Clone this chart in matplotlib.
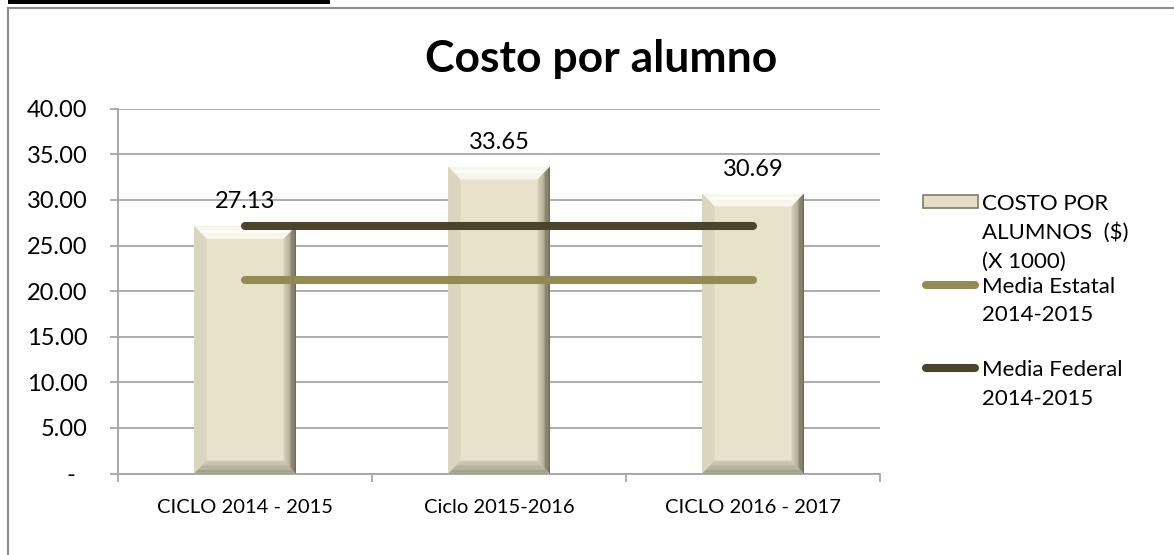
import matplotlib.pyplot as plt
import numpy as np
from matplotlib.lines import Line2D
from matplotlib.patches import Rectangle

plt.rcParams['font.family'] = ['Lato', 'DejaVu Sans']

ciclos = ['CICLO 2014 - 2015', 'Ciclo 2015-2016', 'CICLO 2016 - 2017']
costo = [27.13, 33.65, 30.69]
media_estatal = [21.2, 21.2, 21.2]
media_federal = [27.1, 27.1, 27.1]
yticks = [0, 5, 10, 15, 20, 25, 30, 35, 40]

W, H = 1174, 555
fig = plt.figure(figsize=(W / 100, H / 100), dpi=100)
ax = fig.add_axes([118 / W, 1 - 473.6 / H, 762 / W, (473.6 - 108.8) / H])

x = np.arange(len(ciclos))
bars = ax.bar(x, costo, width=0.4, color='#E8E2CA', zorder=2)


def bevel(ax, rect, bx=0.048, by=1.4, n=10):
    # beveled look: light top/left, shaded right/bottom
    x0, y0 = rect.get_x(), rect.get_y()
    x1, y1 = x0 + rect.get_width(), y0 + rect.get_height()
    ax.fill([x0, x1, x1 - bx, x0 + bx], [y1, y1, y1 - by, y1 - by],
            color='#F8F6EA', lw=0, zorder=3)
    ax.fill([x0, x0 + bx, x0 + bx, x0], [y1, y1 - by, y0 + by, y0],
            color='#DAD5BD', lw=0, zorder=3)
    c_in = np.array([0.82, 0.80, 0.70])
    c_out = np.array([0.24, 0.23, 0.17])
    b_in = np.array([0.80, 0.78, 0.69])
    b_out = np.array([0.58, 0.57, 0.50])
    for i in range(n):
        t0, t1 = i / n, (i + 1) / n
        c = c_in + (c_out - c_in) * (t0 ** 1.5)
        xa, xb = x1 - bx * (1 - t0), x1 - bx * (1 - t1)
        ax.fill([xa, xb, xb, xa],
                [y1 - by * (1 - t0), y1 - by * (1 - t1),
                 y0 + by * (1 - t1), y0 + by * (1 - t0)],
                color=c, lw=0, zorder=3)
        ya, yb = y0 + by * (1 - t0), y0 + by * (1 - t1)
        c2 = b_in + (b_out - b_in) * t0
        ax.fill([x0 + bx * (1 - t0), x0 + bx * (1 - t1), x1 - bx * (1 - t1), x1 - bx * (1 - t0)],
                [ya, yb, yb, ya], color=c2, lw=0, zorder=3)
    ax.plot([x0 + bx * 0.6, x1 - bx * 0.6], [y1 - by * 0.35, y1 - by * 0.35],
            color='white', lw=2, alpha=0.8, zorder=3)


for r in bars:
    bevel(ax, r)

for xi, v in zip(x, costo):
    ax.annotate(f'{v:.2f}', (xi, v), xytext=(0, 13), textcoords='offset points',
                ha='center', va='baseline', fontsize=17, zorder=5)

ax.plot(x, media_estatal, color='#948A54', lw=5.8, solid_capstyle='round', zorder=4)
ax.plot(x, media_federal, color='#4A452A', lw=5.8, solid_capstyle='round', zorder=4)

ax.set_xlim(-0.5, 2.5)
ax.set_ylim(0, 40)
ax.set_yticks(yticks)
ax.set_yticklabels(['-  '] + [f'{v:.2f}' for v in yticks[1:]], fontsize=17)
ax.set_xticks(x)
ax.set_xticklabels(ciclos, fontsize=14.5)
ax.set_xticks([-0.5, 0.5, 1.5, 2.5], minor=True)
ax.tick_params(axis='x', which='major', length=0, pad=18)
ax.tick_params(axis='x', which='minor', length=5.8, color='#A0A0A0', width=1.2)
ax.tick_params(axis='y', length=5.8, color='#A0A0A0', width=1.2, pad=16)
ax.grid(axis='y', color='#A6A6A6', lw=1.3, zorder=0)
ax.set_axisbelow(True)
for s in ['top', 'right']:
    ax.spines[s].set_visible(False)
ax.spines['left'].set_color('#A0A0A0')
ax.spines['bottom'].set_color('#A6A6A6')
ax.spines['left'].set_linewidth(1.3)
ax.spines['bottom'].set_linewidth(1.3)

fig.text(601 / W, 1 - 72 / H, 'Costo por alumno', ha='center', va='baseline',
         fontsize=32, fontweight='bold')


# legend drawn by hand so the swatches line up with the first text line
def fy(py):
    return 1 - py / H


fig.patches.append(Rectangle((923 / W, fy(208)), 55 / W, 13 / H, transform=fig.transFigure,
                             facecolor='#E3DEC5', edgecolor='#7F7B66', lw=1.2))
fig.lines.append(Line2D([926 / W, 975 / W], [fy(285), fy(285)], transform=fig.transFigure,
                        color='#948A54', lw=5.8, solid_capstyle='round'))
fig.lines.append(Line2D([926 / W, 975 / W], [fy(368), fy(368)], transform=fig.transFigure,
                        color='#4A452A', lw=5.8, solid_capstyle='round'))
leg_lines = [('COSTO POR', 202), ('ALUMNOS  ($)', 231), ('(X 1000)', 260),
             ('Media Estatal', 285), ('2014-2015', 313),
             ('Media Federal', 368), ('2014-2015', 397)]
for txt, py in leg_lines:
    fig.text(982 / W, fy(py + 8), txt, ha='left', va='baseline', fontsize=16)

# chart frame and top bar
fig.lines.append(Line2D([8 / W, 8 / W], [0, fy(8)], transform=fig.transFigure, color='#8C8C8C', lw=1.5))
fig.lines.append(Line2D([8 / W, 1], [fy(8), fy(8)], transform=fig.transFigure, color='#8C8C8C', lw=1.5))
fig.patches.append(Rectangle((8 / W, fy(4)), 322 / W, 4 / H, transform=fig.transFigure,
                             facecolor='black', lw=0))

fig.savefig('out.png', dpi=100)
